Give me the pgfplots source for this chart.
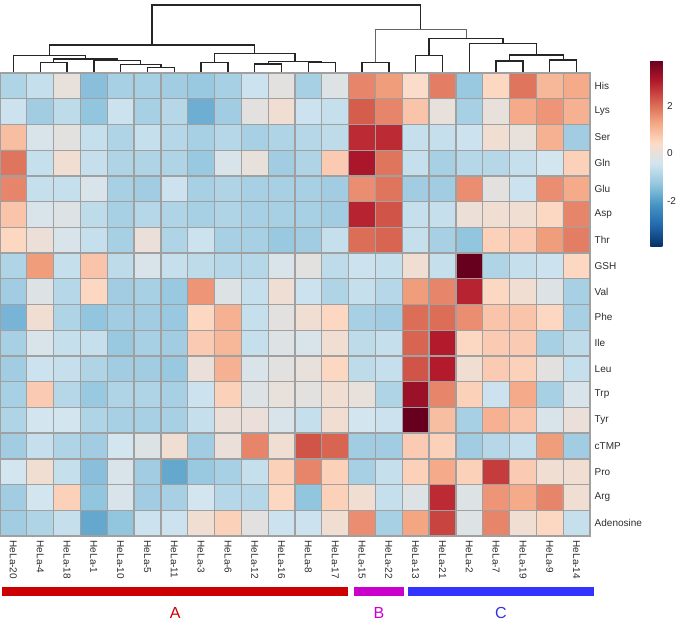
\documentclass[border=0pt]{standalone}
\usepackage{pgfplots}
\pgfplotsset{compat=1.18}
\usepackage{fontspec}
\setmainfont{Liberation Sans}
\setsansfont{Liberation Sans}
\definecolor{gridc}{RGB}{160,160,160}
\definecolor{labc}{RGB}{45,45,45}
\definecolor{grpA}{RGB}{204,0,0}
\definecolor{grpB}{RGB}{204,0,204}
\definecolor{grpC}{RGB}{51,51,255}
\definecolor{grpCt}{RGB}{51,51,220}
\pgfplotsset{dend/.style={black!85, line width=1pt, no markers}}
\begin{document}
\begin{tikzpicture}
\path[use as bounding box] (0pt,0pt) rectangle (511.5pt,-468pt);
% dendrogram
\begin{axis}[
  at={(0pt,-53.75pt)}, anchor=south west,
  scale only axis, width=442.5pt, height=50pt,
  xmin=-0.5, xmax=21.5, ymin=0, ymax=200,
  hide axis, clip=false,
]
\addplot[dend] coordinates {(5,0) (5,12) (6,12) (6,0)};
\addplot[dend] coordinates {(4,0) (4,22) (5.5,22) (5.5,12)};
\addplot[dend] coordinates {(3,0) (3,33) (4.75,33) (4.75,22)};
\addplot[dend] coordinates {(1,0) (1,28) (2,28) (2,0)};
\addplot[dend] coordinates {(1.5,28) (1.5,38) (3.875,38) (3.875,33)};
\addplot[dend] coordinates {(0,0) (0,48) (2.6875,48) (2.6875,38)};
\addplot[dend] coordinates {(7,0) (7,28) (8,28) (8,0)};
\addplot[dend] coordinates {(9,0) (9,23) (10,23) (10,0)};
\addplot[dend] coordinates {(11,0) (11,28) (12,28) (12,0)};
\addplot[dend] coordinates {(9.5,23) (9.5,30) (11.5,30) (11.5,28)};
\addplot[dend] coordinates {(7.5,28) (7.5,55) (10.5,55) (10.5,30)};
\addplot[dend] coordinates {(1.34375,48) (1.34375,80) (9,80) (9,55)};
\addplot[dend] coordinates {(13,0) (13,28) (14,28) (14,0)};
\addplot[dend] coordinates {(15,0) (15,48) (16,48) (16,0)};
\addplot[dend] coordinates {(18,0) (18,32) (19,32) (19,0)};
\addplot[dend] coordinates {(20,0) (20,35) (21,35) (21,0)};
\addplot[dend] coordinates {(18.5,32) (18.5,50) (20.5,50) (20.5,35)};
\addplot[dend] coordinates {(17,0) (17,85) (19.5,85) (19.5,50)};
\addplot[dend] coordinates {(15.5,48) (15.5,100) (18.25,100) (18.25,85)};
\addplot[dend, black!60, line width=0.6pt] coordinates {(13.5,28) (13.5,127) (16.875,127) (16.875,100)};
\addplot[dend] coordinates {(5.171875,80) (5.171875,200) (15.1875,200) (15.1875,127)};
\end{axis}
% heatmap
\begin{axis}[
  at={(0pt,-54.75pt)}, anchor=north west,
  scale only axis, width=442.5pt, height=347.25pt,
  xmin=-0.5, xmax=21.5, ymin=-0.5, ymax=17.5,
  y dir=reverse, enlargelimits=false,
  axis on top, clip=false,
  xtick={0,...,21},
  xticklabels={HeLa-20,HeLa-4,HeLa-18,HeLa-1,HeLa-10,HeLa-5,HeLa-11,HeLa-3,HeLa-6,HeLa-12,HeLa-16,HeLa-8,HeLa-17,HeLa-15,HeLa-22,HeLa-13,HeLa-21,HeLa-2,HeLa-7,HeLa-19,HeLa-9,HeLa-14},
  xticklabel style={rotate=-90, anchor=west, font=\fontsize{7.5}{9}\selectfont, text=labc},
  ytick={0,...,17},
  yticklabels={His,Lys,Ser,Gln,Glu,Asp,Thr,GSH,Val,Phe,Ile,Leu,Trp,Tyr,cTMP,Pro,Arg,Adenosine},
  yticklabel pos=right,
  yticklabel style={anchor=west, font=\fontsize{7.5}{9}\selectfont, text=labc},
  minor xtick={-0.5,0.5,...,21.5},
  minor ytick={-0.5,0.5,...,17.5},
  xminorgrids=true, yminorgrids=true,
  minor grid style={color=gridc, line width=1pt},
  major tick length=0pt, minor tick length=0pt,
  axis line style={color=gridc, line width=1pt},
  colormap={rdbu10}{rgb255=(5,48,97) rgb255=(33,102,172) rgb255=(67,147,195) rgb255=(146,197,222) rgb255=(209,229,240) rgb255=(253,219,199) rgb255=(244,165,130) rgb255=(214,96,77) rgb255=(178,24,43) rgb255=(103,0,31)},
  point meta min=-3.9, point meta max=3.9,
  colorbar,
  colorbar style={
    at={(parent axis.north east)},
    anchor=north west,
    xshift=36.75pt, yshift=9.75pt,
    scale only axis, width=9pt, height=140.25pt,
    ytick={-2,0,2},
    yticklabel style={font=\fontsize{7.5}{9}\selectfont, text=labc, /pgf/number format/assume math mode=true},
    axis line style={draw=none},
    major tick length=0pt,
  },
]
\addplot[matrix plot*, mesh/cols=22, point meta=explicit]
  table[row sep=\\, x expr={\coordindex-22*floor((\coordindex+0.5)/22)}, y expr={floor((\coordindex+0.5)/22)}, meta=v]{
v\\
-0.9\\ -0.6\\ 0.0\\ -1.4\\ -1.0\\ -1.0\\ -1.1\\ -1.2\\ -1.0\\ -0.5\\ -0.1\\ -1.0\\ -0.2\\ 1.7\\ 1.4\\ 0.4\\ 1.8\\ -1.2\\ 0.5\\ 1.9\\ 1.0\\ 1.2\\
-0.5\\ -1.1\\ -0.7\\ -1.3\\ -0.5\\ -1.0\\ -0.8\\ -1.7\\ -1.1\\ -0.1\\ 0.2\\ -0.5\\ -0.6\\ 2.2\\ 1.7\\ 0.8\\ 0.0\\ -1.0\\ 0.0\\ 1.2\\ 1.5\\ 1.1\\
0.9\\ -0.3\\ -0.1\\ -0.6\\ -0.9\\ -0.6\\ -0.8\\ -1.0\\ -0.8\\ -1.0\\ -0.9\\ -0.8\\ -0.7\\ 2.8\\ 2.8\\ -0.6\\ -0.6\\ -0.5\\ 0.2\\ 0.0\\ 1.1\\ -1.1\\
1.9\\ -0.6\\ 0.2\\ -0.6\\ -0.9\\ -0.9\\ -0.9\\ -1.2\\ -0.3\\ 0.0\\ -1.1\\ -0.9\\ 0.7\\ 3.1\\ 1.9\\ -0.6\\ -1.0\\ -0.8\\ -0.8\\ -0.6\\ -0.4\\ 0.6\\
1.7\\ -0.6\\ -0.6\\ -0.3\\ -1.0\\ -1.1\\ -0.5\\ -1.0\\ -0.9\\ -1.0\\ -1.0\\ -1.0\\ -1.1\\ 1.6\\ 1.9\\ -1.1\\ -1.1\\ 1.6\\ -0.1\\ -0.5\\ 1.6\\ 1.2\\
0.8\\ -0.3\\ -0.2\\ -0.7\\ -1.0\\ -0.8\\ -0.9\\ -1.0\\ -0.9\\ -1.0\\ -1.0\\ -1.0\\ -1.1\\ 2.9\\ 2.3\\ -0.6\\ -0.6\\ 0.1\\ 0.2\\ 0.2\\ 0.5\\ 1.7\\
0.5\\ 0.1\\ -0.3\\ -0.6\\ -1.0\\ 0.05\\ -0.9\\ -0.5\\ -1.0\\ -1.0\\ -1.2\\ -1.1\\ -0.6\\ 2.0\\ 2.1\\ -0.6\\ -1.0\\ -1.3\\ 0.6\\ 0.7\\ 1.4\\ 1.8\\
-0.9\\ 1.4\\ -0.6\\ 0.8\\ -0.7\\ -0.3\\ -0.6\\ -0.7\\ -0.8\\ -0.8\\ -0.3\\ -0.1\\ -0.7\\ -0.5\\ -0.6\\ 0.2\\ -0.6\\ 3.9\\ -0.9\\ -0.6\\ -0.5\\ 0.5\\
-1.1\\ -0.2\\ -0.8\\ 0.5\\ -1.1\\ -1.0\\ -1.2\\ 1.5\\ -0.2\\ -0.6\\ 0.15\\ -0.5\\ -0.9\\ -0.6\\ -0.8\\ 1.4\\ 1.7\\ 2.9\\ 0.5\\ 0.2\\ -0.2\\ -1.0\\
-1.6\\ 0.2\\ -0.9\\ -1.3\\ -1.1\\ -1.1\\ -1.2\\ 0.5\\ 1.1\\ -0.6\\ -0.1\\ 0.2\\ 0.5\\ -1.0\\ -1.1\\ 2.0\\ 2.0\\ 1.6\\ 0.8\\ 0.8\\ 0.5\\ -1.0\\
-1.0\\ -0.3\\ -0.6\\ -0.6\\ -1.2\\ -1.0\\ -1.1\\ 0.7\\ 1.0\\ -0.6\\ -0.2\\ -0.3\\ 0.2\\ -0.7\\ -0.6\\ 2.1\\ 3.0\\ 0.5\\ 0.7\\ 0.7\\ -1.0\\ -0.7\\
-1.1\\ -0.5\\ -0.6\\ -0.9\\ -1.1\\ -1.1\\ -1.2\\ 0.05\\ 1.1\\ -0.3\\ -0.1\\ 0.0\\ 0.5\\ -0.7\\ -0.6\\ 2.3\\ 3.0\\ 0.2\\ 0.7\\ 0.6\\ -0.1\\ -0.6\\
-1.0\\ 0.7\\ -0.8\\ -1.2\\ -0.9\\ -0.9\\ -1.0\\ -0.5\\ 0.6\\ -0.2\\ 0.0\\ -0.1\\ 0.2\\ 0.0\\ -0.9\\ 3.3\\ 1.7\\ 0.6\\ -0.5\\ 1.2\\ -1.0\\ -0.3\\
-0.9\\ -0.4\\ -0.4\\ -0.9\\ -1.0\\ -1.0\\ -1.0\\ -0.6\\ 0.05\\ 0.05\\ -0.3\\ -0.6\\ 0.2\\ -0.4\\ -0.5\\ 3.9\\ 0.9\\ -1.0\\ 1.1\\ 0.8\\ -0.3\\ 0.05\\
-1.1\\ -0.6\\ -0.9\\ -1.1\\ -0.4\\ -0.2\\ 0.2\\ -1.1\\ 0.05\\ 1.7\\ 0.2\\ 2.3\\ 2.1\\ -1.1\\ -1.1\\ 0.7\\ 0.6\\ -1.1\\ -0.8\\ -0.6\\ 1.4\\ -1.1\\
-0.4\\ 0.2\\ -0.6\\ -1.4\\ -0.3\\ -1.1\\ -1.8\\ -1.2\\ -1.0\\ -0.6\\ 0.6\\ 1.7\\ 0.6\\ -1.0\\ -0.6\\ 0.6\\ 1.2\\ 0.6\\ 2.6\\ 0.7\\ 0.2\\ 0.2\\
-1.1\\ -0.4\\ 0.6\\ -1.3\\ -0.3\\ -1.1\\ -1.0\\ -0.4\\ -0.8\\ -0.8\\ 0.5\\ -1.3\\ 0.6\\ 0.2\\ -0.6\\ -0.2\\ 2.8\\ -0.2\\ 1.5\\ 1.2\\ 1.7\\ 0.2\\
-1.1\\ -0.9\\ -0.6\\ -1.8\\ -1.3\\ -0.5\\ -0.5\\ 0.2\\ 0.6\\ -0.1\\ -0.5\\ -0.5\\ 0.2\\ 1.6\\ -1.0\\ 1.3\\ 2.5\\ -0.2\\ 1.7\\ 0.2\\ 0.5\\ -0.6\\
};
% group bars
\fill[grpA] (axis cs:-0.43,19.48) rectangle (axis cs:12.48,19.83);
\fill[grpB] (axis cs:12.70,19.48) rectangle (axis cs:14.56,19.83);
\fill[grpC] (axis cs:14.71,19.48) rectangle (axis cs:21.65,19.83);
\node[text=grpA, font=\fontsize{12}{14}\selectfont] at (axis cs:6.03,20.49) {A};
\node[text=grpB, font=\fontsize{12}{14}\selectfont] at (axis cs:13.63,20.49) {B};
\node[text=grpCt, font=\fontsize{12}{14}\selectfont] at (axis cs:18.18,20.49) {C};
\end{axis}
\end{tikzpicture}
\end{document}
